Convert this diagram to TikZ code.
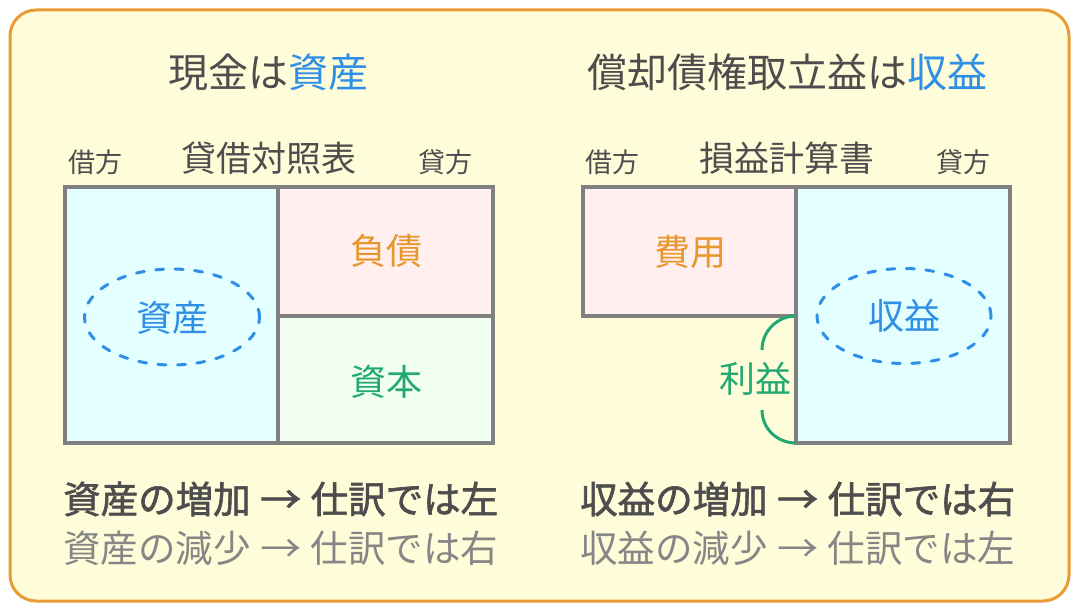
\documentclass[tikz,border=0pt]{standalone}
\usepackage{fontspec}
\setmainfont{Noto Sans CJK JP}
\newfontfamily\jpb{Noto Sans CJK JP}[FakeBold=1.6]
\usetikzlibrary{shapes.geometric}
\definecolor{bgyel}{HTML}{FFFDD9}
\definecolor{frameor}{HTML}{EA9C34}
\definecolor{txt}{HTML}{4D4D4D}
\definecolor{lighttxt}{HTML}{868686}
\definecolor{bblue}{HTML}{2F8FE6}
\definecolor{oor}{HTML}{E8962E}
\definecolor{ggreen}{HTML}{22A873}
\definecolor{boxgray}{HTML}{808080}
\definecolor{fcyan}{HTML}{E3FFFF}
\definecolor{fpink}{HTML}{FFEFEF}
\definecolor{fgreen}{HTML}{F0FFF0}
\newcommand{\arr}{\makebox[60pt]{\scalebox{1.1}[1]{→}}}
\tikzset{
  fs/.style={font=\fontsize{#1}{#1}\selectfont},
  title/.style={fs=40, text=txt, inner sep=0pt},
  side/.style={fs=27, text=txt, inner sep=0pt},
  heading/.style={fs=35, text=txt, inner sep=0pt},
  cell/.style={fs=36, inner sep=0pt},
  cellbox/.style={draw=boxgray, line width=3.2pt},
  dashell/.style={draw=bblue, line width=3pt, dash pattern=on 8pt off 11.5pt, line cap=round, ellipse, inner sep=0pt},
  rule1/.style={font=\jpb\fontsize{37.5}{37.5}\selectfont, text=txt, inner sep=0pt, anchor=west},
  rule2/.style={fs=37.5, text=lighttxt, inner sep=0pt, anchor=west},
}
\begin{document}
\begin{tikzpicture}[x=1pt,y=-1pt]
\useasboundingbox (0,0) rectangle (1080,612);
\draw[fill=bgyel, draw=frameor, line width=3pt, rounded corners=26pt] (10,10) rectangle (1069,601);

% ---------- left ----------
\node[title] (t1) at (268,72) {現金は\textcolor{bblue}{資産}};
\node[side] (kl1) at (95,162) {借方};
\node[heading] (h1) at (269,158) {貸借対照表};
\node[side] (kr1) at (445,162) {貸方};

\path[fill=fcyan] (65,187) rectangle (278,443);
\path[fill=fpink] (278,187) rectangle (493,316);
\path[fill=fgreen] (278,316) rectangle (493,443);
\draw[cellbox] (65,187) rectangle (493,443);
\draw[cellbox] (278,187) -- (278,443);
\draw[cellbox] (278,316) -- (493,316);

\node[dashell, minimum width=175pt, minimum height=96pt] (e1) at (172,317) {};
\node[cell, text=bblue] (asset) at (172,318) {資産};
\node[cell, text=oor] (liab) at (386,251) {負債};
\node[cell, text=ggreen] (cap) at (386,382) {資本};

\node[rule1] (r11) at (63,499) {資産の増加\arr 仕訳では左};
\node[rule2] (r12) at (63,548) {資産の減少\arr 仕訳では右};

% ---------- right ----------
\node[title] (t2) at (787,72) {償却債権取立益は\textcolor{bblue}{収益}};
\node[side] (kl2) at (612,162) {借方};
\node[heading] (h2) at (787,158) {損益計算書};
\node[side] (kr2) at (963,162) {貸方};

\path[fill=fpink] (583,187) rectangle (796,316);
\path[fill=fcyan] (796,187) rectangle (1010,443);
\draw[cellbox] (583,187) rectangle (796,316);
\draw[cellbox] (796,187) rectangle (1010,443);

\node[dashell, minimum width=174pt, minimum height=95pt] (e2) at (904,316) {};
\node[cell, text=bblue] (rev) at (904,316) {収益};
\node[cell, text=oor] (exp) at (690,252) {費用};
\node[cell, text=ggreen] (prof) at (755,379) {利益};

\coordinate (bt) at (796,316);
\coordinate (bb) at (796,443);
\draw[ggreen, line width=3pt] (bt) .. controls (777.2,316) and (762,331.2) .. (762,350);
\draw[ggreen, line width=3pt] (762,410) .. controls (762,428.8) and (777.2,443) .. (bb);

\node[rule1] (r21) at (580,499) {収益の増加\arr 仕訳では右};
\node[rule2] (r22) at (580,548) {収益の減少\arr 仕訳では左};
\end{tikzpicture}
\end{document}
